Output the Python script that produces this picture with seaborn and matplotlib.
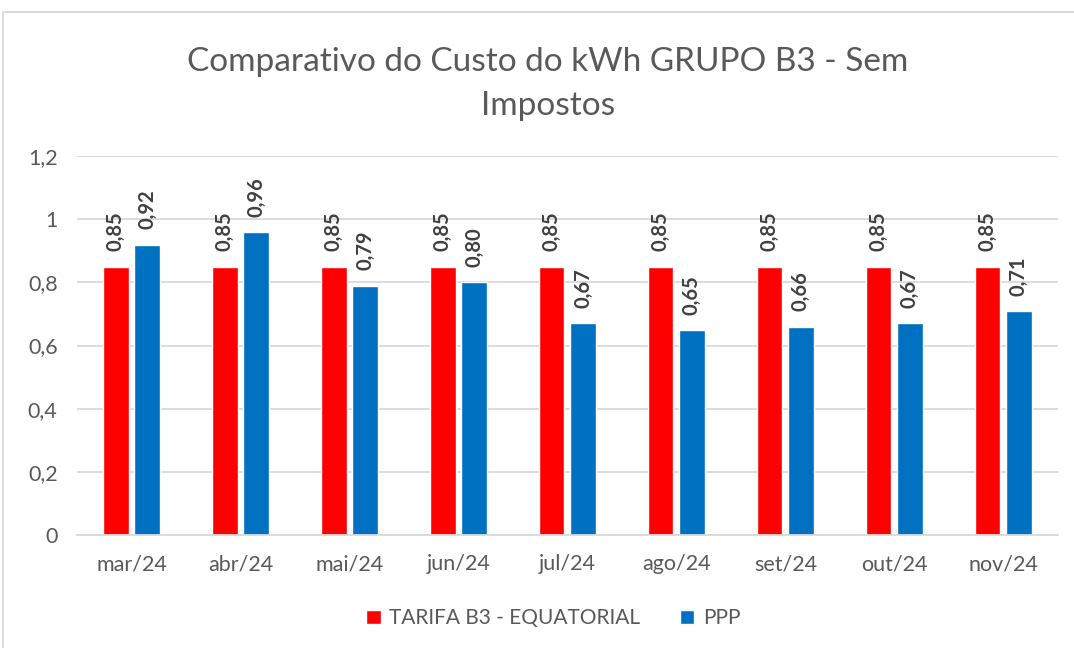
import pandas as pd
import matplotlib.pyplot as plt
import matplotlib.patches as mpatches
from matplotlib.ticker import FuncFormatter, FixedLocator
import seaborn as sns

# Chart data
months = ["mar/24", "abr/24", "mai/24", "jun/24", "jul/24", "ago/24", "set/24", "out/24", "nov/24"]
tarifa_b3 = [0.85, 0.85, 0.85, 0.85, 0.85, 0.85, 0.85, 0.85, 0.85]
ppp = [0.92, 0.96, 0.79, 0.80, 0.67, 0.65, 0.66, 0.67, 0.71]
series_names = ["TARIFA B3 - EQUATORIAL", "PPP"]
y_ticks = [0, 0.2, 0.4, 0.6, 0.8, 1.0, 1.2]

df = pd.DataFrame({
    "Mes": months * 2,
    "Serie": [series_names[0]] * len(months) + [series_names[1]] * len(months),
    "Valor": tarifa_b3 + ppp,
})

sns.set_style("white")
plt.rcParams["font.family"] = ["Lato", "DejaVu Sans"]
text_gray = "#595959"
grid_gray = "#d9d9d9"

fig = plt.figure(figsize=(10.74, 6.48), dpi=100)
ax = fig.add_axes([0.0717, 0.1744, 0.9133, 0.5846])

sns.barplot(data=df, x="Mes", y="Valor", hue="Serie", order=months,
            hue_order=series_names, palette=["#FF0000", "#0070C0"],
            width=0.57, gap=0.19, ax=ax, saturation=1)

for cont in ax.containers:
    ax.bar_label(cont, fmt=lambda v: f"{v:.2f}".replace(".", ","), rotation=90,
                 padding=11, fontsize=14.5, fontweight="bold", color="#404040")

ax.set_ylim(0, 1.2)
ax.set_xlim(-0.5, len(months) - 0.5)
ax.set_yticks(y_ticks)
ax.yaxis.set_major_formatter(FuncFormatter(lambda v, p: f"{v:g}".replace(".", ",")))
ax.grid(axis="y", color=grid_gray, linewidth=1.3)
ax.set_axisbelow(True)
ax.set_xlabel("")
ax.set_ylabel("")
for s in ["left", "right", "top"]:
    ax.spines[s].set_visible(False)
ax.spines["bottom"].set_color(grid_gray)
ax.spines["bottom"].set_linewidth(1.3)
ax.tick_params(axis="both", labelsize=15.5, labelcolor=text_gray, length=0)
ax.tick_params(axis="x", pad=14)
ax.xaxis.set_minor_locator(FixedLocator([i - 0.5 for i in range(len(months) + 1)]))
ax.tick_params(axis="x", which="minor", length=8, color=grid_gray, width=1.3)
ax.tick_params(axis="y", pad=14)

sns.move_legend(ax, "center", bbox_to_anchor=(0.515, 0.046), bbox_transform=fig.transFigure,
                ncol=2, frameon=False, title=None, fontsize=15, handlelength=0.7,
                handleheight=0.7, columnspacing=1.9, handletextpad=0.4)
for t in ax.get_legend().get_texts():
    t.set_color(text_gray)

fig.text(0.51, 0.87, "Comparativo do Custo do kWh GRUPO B3 - Sem\nImpostos", ha="center",
         va="center", fontsize=24, color=text_gray, linespacing=1.6)

fig.patches.append(mpatches.Rectangle((3 / 1074, -0.01), 1.1, 1 - 12 / 648 + 0.01,
                                      transform=fig.transFigure, fill=False,
                                      edgecolor=grid_gray, linewidth=1.3))

fig.savefig("out.png", dpi=100)
